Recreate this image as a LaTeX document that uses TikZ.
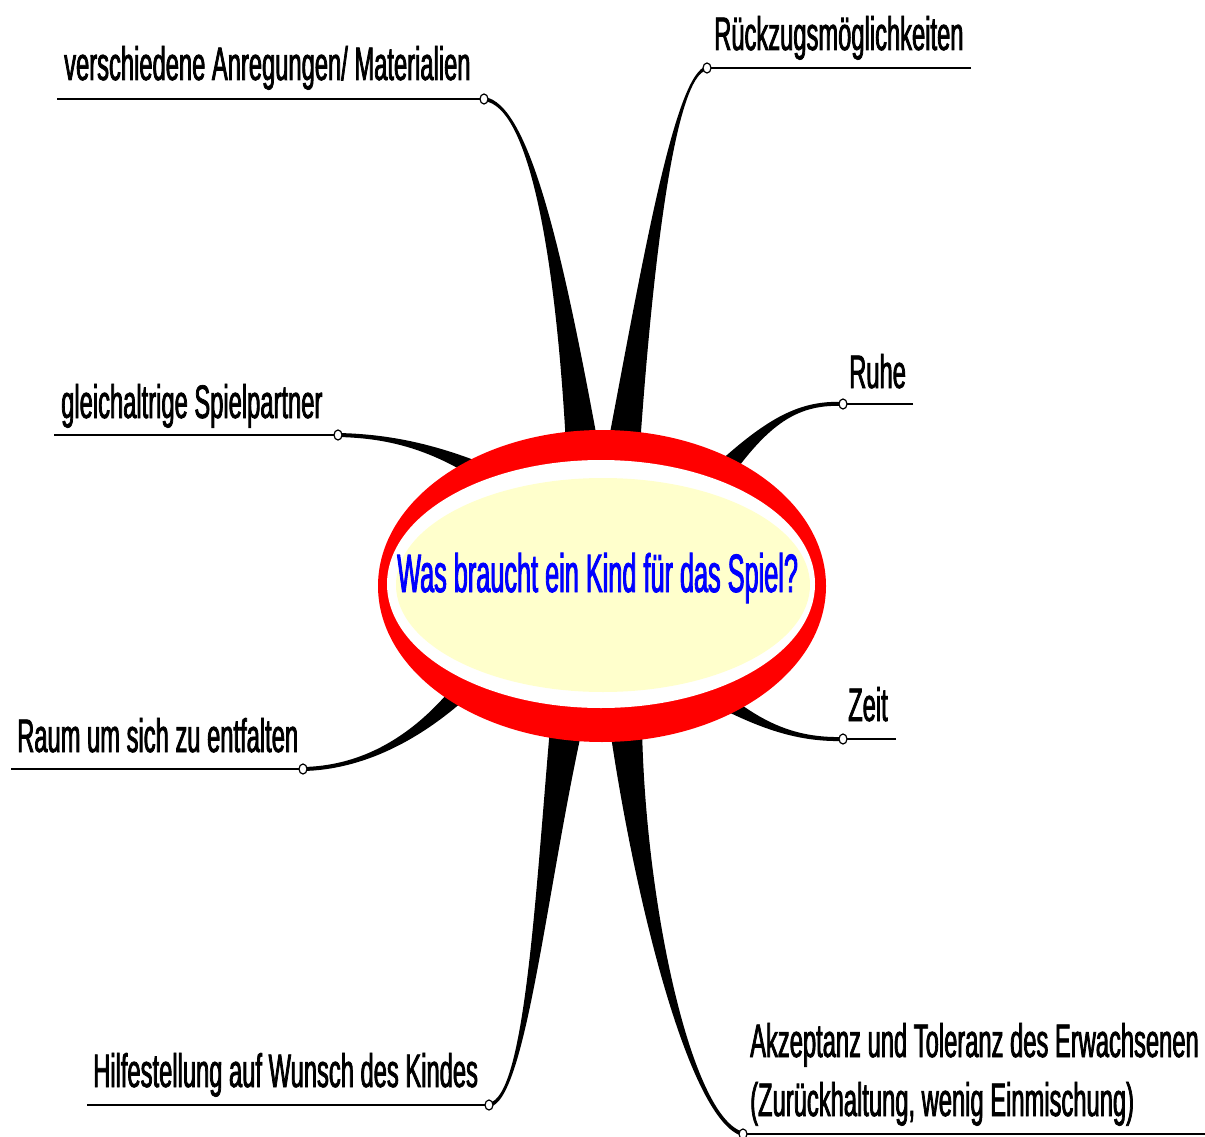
\documentclass[tikz,border=0pt]{standalone}
\usepackage{fontspec}
\usetikzlibrary{shapes.geometric,calc}
\newfontfamily\labfont[FakeStretch=0.505,FakeBold=1.6]{Liberation Sans}
\newfontfamily\cenfont[FakeStretch=0.468,FakeBold=1.6]{Liberation Sans}
\definecolor{palefill}{RGB}{255,255,204}
\definecolor{ringred}{RGB}{255,0,0}
\definecolor{qblue}{RGB}{0,0,255}
\tikzset{
  lab/.style={font=\labfont\fontsize{47}{57}\selectfont, inner sep=0pt, anchor=base west, text=black},
  uline/.style={draw=black, line width=2pt},
  knob/.style={ellipse, draw=black, fill=white, line width=1.2pt, minimum width=8pt, minimum height=10pt, inner sep=0pt},
  spike/.style={fill=black},
}
\begin{document}
\begin{tikzpicture}[x=1pt,y=-1pt]
\fill[white] (0,0) rectangle (1205,1137);
\useasboundingbox (0,0) rectangle (1205,1137);

% underline ends and knobs
\coordinate (e1) at (57,99);
\coordinate (e2) at (971,68);
\coordinate (e3) at (913,404);
\coordinate (e4) at (54,435);
\coordinate (e5) at (11,769);
\coordinate (e6) at (896,739);
\coordinate (e7) at (87,1105);
\coordinate (e8) at (1205,1134);
\coordinate (k1) at (484,99);
\coordinate (k2) at (707,68);
\coordinate (k3) at (843,404);
\coordinate (k4) at (338,435);
\coordinate (k5) at (303,769);
\coordinate (k6) at (843,739);
\coordinate (k7) at (489,1105);
\coordinate (k8) at (743,1134);

\foreach \i in {1,...,8} { \draw[uline] (e\i) -- (k\i); }

% tapered branches
\fill[spike] (484,101) .. controls (530,106) and (556,260.5) .. (566.1,446.9)
  -- (597.9,443.1) .. controls (564,259.5) and (530,102) .. (484,97) -- cycle;
\fill[spike] (707,66) .. controls (675,72) and (643,259.4) .. (608.1,442.9)
  -- (639.9,447.1) .. controls (653,260.6) and (675,76) .. (707,70) -- cycle;
\fill[spike] (843,402) .. controls (800,400) and (768.2,418.3) .. (721.4,459.9)
  -- (734.6,472.1) .. controls (771.8,421.7) and (800,404) .. (843,406) -- cycle;
\fill[spike] (338,437) .. controls (385,438) and (428.6,447.7) .. (480.8,482)
  -- (489.2,466) .. controls (431.4,442.3) and (385,434) .. (338,433) -- cycle;
\fill[spike] (303,771) .. controls (355,770) and (412.2,747.1) .. (468.5,696.2)
  -- (455.5,683.8) .. controls (407.8,742.9) and (355,766) .. (303,767) -- cycle;
\fill[spike] (843,737) .. controls (800,738) and (766.4,725.9) .. (726.4,693.3)
  -- (717.6,706.7) .. controls (763.6,730.1) and (800,742) .. (843,741) -- cycle;
\fill[spike] (489.3,1107) .. controls (525.3,1102) and (544.9,900.7) .. (581.8,730.4)
  -- (550.2,725.6) .. controls (535.1,899.3) and (524.7,1098) .. (488.7,1103) -- cycle;
\fill[spike] (743.5,1132) .. controls (690.5,1118) and (645,899.6) .. (642,726.7)
  -- (610,729.3) .. controls (635,900.4) and (689.5,1122) .. (742.5,1136) -- cycle;

\foreach \i in {1,...,8} { \node[knob] (n\i) at (k\i) {}; }

% central ellipse
\fill[ringred] (602,586) ellipse [x radius=224, y radius=156];
\fill[white] (601,584) ellipse [x radius=214, y radius=124];
\fill[palefill] (603,585) ellipse [x radius=207, y radius=107];
\node[font=\cenfont\fontsize{54}{60}\selectfont, text=qblue, inner sep=0pt, anchor=base west] (c) at (397,592) {Was braucht ein Kind für das Spiel?};

% labels
\node[lab] (t1) at (64,80) {verschiedene Anregungen/ Materialien};
\node[lab] (t2) at (714,50) {Rückzugsmöglichkeiten};
\node[lab] (t3) at (849,388) {Ruhe};
\node[lab] (t4) at (61,418) {gleichaltrige Spielpartner};
\node[lab] (t5) at (17,752) {Raum um sich zu entfalten};
\node[lab] (t6) at (848,721) {Zeit};
\node[lab] (t7) at (93,1087) {Hilfestellung auf Wunsch des Kindes};
\node[lab] (t8a) at (750,1057) {Akzeptanz und Toleranz des Erwachsenen};
\node[lab] (t8b) at (750,1116) {(Zurückhaltung, wenig Einmischung)};
\end{tikzpicture}
\end{document}
